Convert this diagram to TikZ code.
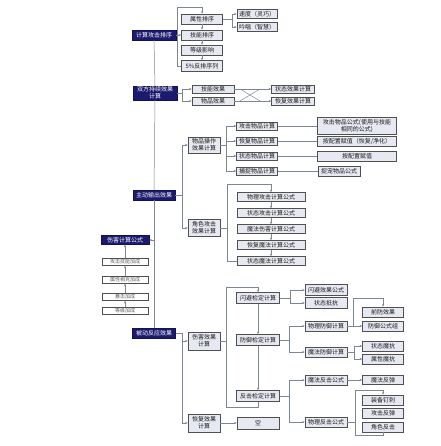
\documentclass[tikz,border=0pt]{standalone}
\usepackage{fontspec}
\newfontfamily\cjk{Noto Sans CJK SC}
\usetikzlibrary{arrows.meta,shadows}
\definecolor{navy}{HTML}{1C1A6E}
\definecolor{boxfill}{HTML}{E6E9F1}
\definecolor{boxborder}{HTML}{505050}
\definecolor{linegray}{HTML}{7C8796}
\begin{document}
\begin{tikzpicture}[x=1pt,y=-1pt,
  bw/.style={minimum width=#1},
  bh/.style={minimum height=#1},
  lb/.style={draw=boxborder, fill=boxfill, line width=0.5pt, inner sep=0pt, text=black!90,
    font=\cjk\fontsize{6}{6.6}\selectfont, align=center,
    drop shadow={shadow xshift=0.6pt, shadow yshift=-0.6pt, fill=black!50, opacity=1}},
  sb/.style={lb, fill=white, text=black!65, font=\cjk\fontsize{5}{5.5}\selectfont},
  db/.style={fill=navy, draw=navy!70!black, text=white, inner sep=0pt,
    font=\cjk\fontsize{6}{6.8}\selectfont, align=center},
  ln/.style={draw=linegray, line width=0.5pt},
  ar/.style={ln, -{Stealth[length=2.6pt,width=2.2pt]}}]
\useasboundingbox (0,0) rectangle (440,446);
\fill[white] (0,0) rectangle (440,446);

% trunk
\coordinate (t4) at (154,240);
% main dark nodes
\node[db,bw=44,bh=10] (n1) at (154,35) {计算攻击排序};
\node[db,bw=44,bh=14] (n2) at (155,93) {双方持续效果\\计算};
\node[db,bw=42,bh=10] (n3) at (154,195) {主动输出效果};
\node[db,bw=48,bh=9] (n4) at (125,240) {伤害计算公式};
\node[db,bw=43,bh=10] (n5) at (154,333) {被动反应效果};
\draw[ln] (n1.south) -- (n2.north);
\draw[ln] (n2.south) -- (n3.north);
\draw[ln] (n3.south) -- (n5.north);

% sorting group
\node[lb,bw=41,bh=10] (s1) at (202,19) {属性排序};
\node[lb,bw=41,bh=10] (s2) at (202,35) {技能排序};
\node[lb,bw=41,bh=10] (s3) at (202,50) {等级影响};
\node[lb,bw=41,bh=11] (s4) at (202,66) {5\%反排序列};
\node[lb,bw=40,bh=9] (s5) at (257,14) {速度（灵巧）};
\node[lb,bw=40,bh=9] (s6) at (257,27) {吟唱（智慧）};
\draw[ar] (n1.east) -- (s2.west);
\draw[ar] (s4.west) -- (177,66) -- (177,7) -- (202,7) -- (s1.north);
\draw[ar] (s1.south) -- (s2.north);
\draw[ar] (s2.south) -- (s3.north);
\draw[ar] (s3.south) -- (s4.north);
\draw[ln] (s1.east) -- (232,19);
\draw[ln] (232,14) -- (232,27);
\draw[ar] (232,14) -- (s5.west);
\draw[ar] (232,27) -- (s6.west);

% ongoing effects
\node[lb,bw=42,bh=8] (d1) at (213,89) {技能效果};
\node[lb,bw=42,bh=8] (d2) at (213,101) {物品效果};
\node[lb,bw=43,bh=8] (d3) at (293,89) {状态效果计算};
\node[lb,bw=43,bh=8] (d4) at (293,101) {恢复效果计算};
\draw[ln] (n2.east) -- (182,93);
\draw[ln] (182,89) -- (182,101);
\draw[ar] (182,89) -- (d1.west);
\draw[ar] (182,101) -- (d2.west);
\draw[ar] (d1.east) -- (d3.west);
\draw[ar] (d2.east) -- (d4.west);
\draw[ln] (240,89) -- (260,101);
\draw[ln] (240,101) -- (260,89);

% active output
\node[lb,bw=32,bh=16] (a1) at (204,145) {物品操作\\效果计算};
\node[lb,bw=32,bh=17] (a2) at (204,228) {角色攻击\\效果计算};
\draw[ln] (n3.east) -- (182,195);
\draw[ln] (182,145) -- (182,228);
\draw[ar] (182,145) -- (a1.west);
\draw[ar] (182,228) -- (a2.west);

\node[lb,bw=41,bh=8] (i1) at (257,126) {攻击物品计算};
\node[lb,bw=41,bh=8] (i2) at (257,141) {恢复物品计算};
\node[lb,bw=41,bh=8] (i3) at (257,156) {状态物品计算};
\node[lb,bw=41,bh=8] (i4) at (257,171) {捕捉物品计算};
\draw[ln] (a1.east) -- (226,145);
\draw[ln] (226,126) -- (226,171);
\draw[ar] (226,126) -- (i1.west);
\draw[ar] (226,141) -- (i2.west);
\draw[ar] (226,156) -- (i3.west);
\draw[ar] (226,171) -- (i4.west);

\node[lb,bw=79,bh=17] (r1) at (357,126) {攻击物品公式(使用与技能\\相同的公式)};
\node[lb,bw=79,bh=10] (r2) at (357,141) {按配置赋值（恢复/净化）};
\node[lb,bw=79,bh=10] (r3) at (357,156) {按配置赋值};
\node[lb,bw=42,bh=10] (r4) at (339,171) {捉宠物品公式};
\draw[ln] (i1.east) -- (r1.west);
\draw[ln] (i2.east) -- (r2.west);
\draw[ln] (i3.east) -- (r3.west);
\draw[ln] (i4.east) -- (r4.west);

\node[lb,bw=68,bh=9] (c1) at (271,197) {物理攻击计算公式};
\node[lb,bw=68,bh=9] (c2) at (271,213) {状态攻击计算公式};
\node[lb,bw=68,bh=9] (c3) at (271,229) {魔法伤害计算公式};
\node[lb,bw=68,bh=9] (c4) at (271,245) {恢复魔法计算公式};
\node[lb,bw=68,bh=9] (c5) at (271,261) {状态魔法计算公式};
\draw[ln] (a2.east) -- (227,228);
\draw[ar] (c5.west) -- (227,261) -- (227,184) -- (271,184) -- (c1.north);
\draw[ar] (c1.south) -- (c2.north);
\draw[ar] (c2.south) -- (c3.north);
\draw[ar] (c3.south) -- (c4.north);
\draw[ar] (c4.south) -- (c5.north);

% damage formula column
\node[sb,bw=46,bh=7] (L1) at (125,262) {攻击技能加成};
\node[sb,bw=46,bh=7] (L2) at (125,280) {属性相克加成};
\node[sb,bw=46,bh=7] (L3) at (125,297) {暴击加成};
\node[sb,bw=46,bh=7] (L4) at (125,311) {等级加成};
\draw[ar] (t4) -- (n4.east);
\draw[ar] (L1.north) -- (n4.south);
\draw[ar] (L2.north) -- (L1.south);
\draw[ar] (L3.north) -- (L2.south);
\draw[ar] (L4.north) -- (L3.south);

% passive reaction
\node[lb,bw=32,bh=18] (p1) at (204,341) {伤害效果\\计算};
\node[lb,bw=32,bh=18] (p2) at (204,423) {恢复效果\\计算};
\node[lb,bw=42,bh=12] (p3) at (258,423) {空};
\draw[ln] (n5.east) -- (182,333) -- (182,423);
\draw[ar] (182,341) -- (p1.west);
\draw[ar] (182,423) -- (p2.west);
\draw[ar] (p2.east) -- (p3.west);

\node[lb,bw=43,bh=11] (q1) at (258,298) {闪避检定计算};
\node[lb,bw=43,bh=11] (q2) at (258,340) {防御检定计算};
\node[lb,bw=43,bh=11] (q3) at (258,396) {反击检定计算};
\draw[ln] (p1.east) -- (226,341);
\draw[ar] (q3.south) -- (258,407) -- (226,407) -- (226,287) -- (258,287) -- (q1.north);
\draw[ar] (q1.south) -- (q2.north);
\draw[ar] (q2.south) -- (q3.north);

\node[lb,bw=42,bh=11] (e1) at (326,290) {闪避效果公式};
\node[lb,bw=42,bh=11] (e2) at (326,303) {状态抵抗};
\draw[ln] (q1.east) -- (290,298);
\draw[ln] (290,290) -- (290,303);
\draw[ar] (290,290) -- (e1.west);
\draw[ar] (290,303) -- (e2.west);

\node[lb,bw=42,bh=10] (f1) at (326,326) {物理防御计算};
\node[lb,bw=42,bh=10] (f2) at (326,352) {魔法防御计算};
\draw[ln] (q2.east) -- (289,340);
\draw[ln] (289,326) -- (289,352);
\draw[ar] (289,326) -- (f1.west);
\draw[ar] (289,352) -- (f2.west);

\node[lb,bw=42,bh=10] (g1) at (326,380) {魔法反击公式};
\node[lb,bw=42,bh=10] (g2) at (326,422) {物理反击公式};
\draw[ln] (q3.east) -- (289,396);
\draw[ln] (289,380) -- (289,422);
\draw[ar] (289,380) -- (g1.west);
\draw[ar] (289,422) -- (g2.west);

\node[lb,bw=41,bh=10] (h1) at (383,312) {前防效果};
\node[lb,bw=41,bh=10] (h2) at (383,326) {防御公式组};
\node[lb,bw=41,bh=10] (h3) at (383,346) {状态魔抗};
\node[lb,bw=41,bh=10] (h4) at (383,359) {属性魔抗};
\node[lb,bw=41,bh=9] (h5) at (383,380) {魔法反弹};
\node[lb,bw=41,bh=10] (h6) at (383,400) {装备钉刺};
\node[lb,bw=41,bh=10] (h7) at (383,413) {攻击反弹};
\node[lb,bw=41,bh=10] (h8) at (383,427) {角色反击};

\draw[ar] (f1.east) -- (h2.west);
\draw[ar] (353,326) -- (353,298) -- (383,298) -- (h1.north);
\draw[ln] (f2.east) -- (354,352);
\draw[ln] (354,346) -- (354,359);
\draw[ar] (354,346) -- (h3.west);
\draw[ar] (354,359) -- (h4.west);
\draw[ar] (g1.east) -- (h5.west);
\draw[ln] (g2.east) -- (355,422);
\draw[ln] (355,435) -- (355,390);
\draw[ar] (355,390) -- (383,390) -- (h6.north);
\draw[ln] (355,435) -- (383,435) -- (h8.south);
\end{tikzpicture}
\end{document}
